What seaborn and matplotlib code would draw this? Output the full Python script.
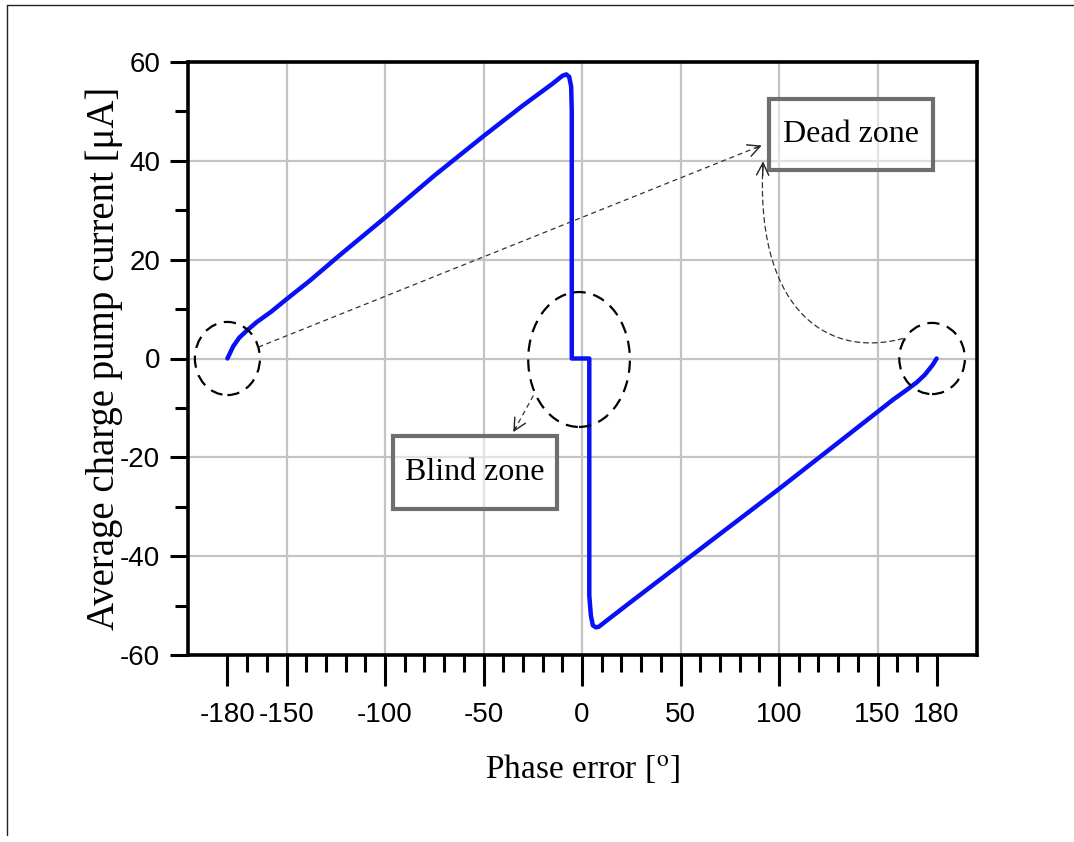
import numpy as np
import pandas as pd
import seaborn as sns
import matplotlib
matplotlib.use("Agg")
import matplotlib.pyplot as plt
from matplotlib.patches import Ellipse, Rectangle, FancyArrowPatch
from matplotlib.path import Path
from matplotlib.lines import Line2D
from matplotlib.ticker import MultipleLocator, FixedLocator

# ---- data ----
phase_deg = [-180, -177, -174, -170, -165, -158, -150, -138, -123, -100, -75, -50,
             -30, -15, -10, -8, -6.5, -5.5, -5.2, -5.2, 3.7, 3.7, 4.5, 5.5, 7, 8.5,
             12, 25, 50, 75, 100, 125, 150, 158, 165, 170, 174, 178, 180]
current_uA = [0, 2.5, 4.2, 5.7, 7.4, 9.4, 12.0, 15.8, 20.9, 28.5, 37.0, 45.0,
              51.2, 55.6, 57.2, 57.5, 57.0, 55.0, 50.0, 0, 0, -48, -52, -54, -54.4, -54.3,
              -53.2, -49.2, -41.6, -34.0, -26.4, -18.6, -10.8, -8.3, -6.3, -4.8, -3.3, -1.3, 0]

x_major_ticks = [-180, -150, -100, -50, 0, 50, 100, 150, 180]
x_tick_labels = ["-180", "-150", "-100", "-50", "0", "50", "100", "150", "180"]
y_major_ticks = [-60, -40, -20, 0, 20, 40, 60]
y_tick_labels = ["-60", "-40", "-20", "0", "20", "40", "60"]

x_label = "Phase error [$^{\\mathrm{o}}$]"
y_label = "Average charge pump current [\u03bcA]"
dead_zone_text = "Dead zone"
blind_zone_text = "Blind zone"

df = pd.DataFrame({"phase": phase_deg, "current": current_uA})

sns.set_theme(style="white")
plt.rcParams["font.family"] = ["Liberation Serif", "DejaVu Serif"]
plt.rcParams["mathtext.fontset"] = "stix"
plt.rcParams["axes.unicode_minus"] = False

fig = plt.figure(figsize=(10.74, 8.42), dpi=100)
ax = fig.add_axes([188 / 1074, 1 - 655 / 842, (977 - 188) / 1074, (655 - 62) / 842])

grid_c = "#c4c4c4"
sns.lineplot(data=df, x="phase", y="current", sort=False, estimator=None,
             color="#0a10f5", lw=3.2, ax=ax, zorder=5)

ax.set_xlim(-200, 200.5)
ax.set_ylim(-60, 60)

# ticks
ax.xaxis.set_major_locator(FixedLocator(x_major_ticks))
ax.set_xticklabels(x_tick_labels)
ax.xaxis.set_minor_locator(FixedLocator([v for v in range(-170, 180, 10) if v % 50 != 0]))
ax.yaxis.set_major_locator(FixedLocator(y_major_ticks))
ax.set_yticklabels(y_tick_labels)
ax.yaxis.set_minor_locator(MultipleLocator(10))

ax.tick_params(axis="both", which="major", labelsize=20, labelcolor="black",
               labelfontfamily="Liberation Sans")
ax.tick_params(axis="x", which="major", direction="out", length=22, width=2.2,
               color="black", pad=12, bottom=True)
ax.tick_params(axis="x", which="minor", direction="out", length=12, width=2.2,
               color="black", bottom=True)
ax.tick_params(axis="y", which="major", direction="out", length=13, width=2.2,
               color="black", pad=7, left=True)
ax.tick_params(axis="y", which="minor", direction="out", length=9.5, width=2.2,
               color="black", left=True)

# grid
ax.grid(True, which="major", color=grid_c, lw=1.6, zorder=0)
xg = ax.get_xgridlines()
xg[0].set_visible(False)
xg[-1].set_visible(False)
ax.set_axisbelow(True)

for s in ax.spines.values():
    s.set_visible(True)
    s.set_color("black")
    s.set_linewidth(2.6)

ax.set_xlabel(x_label, fontsize=24, color="black")
ax.set_ylabel(y_label, fontsize=28, color="black")
ax.xaxis.set_label_coords(0.5, -0.163)
ax.yaxis.set_label_coords(-0.083, 0.5)

# dashed ellipses
ell_kw = dict(fill=False, edgecolor="black", lw=1.6, linestyle=(0, (5.5, 3.5)), zorder=6)
ax.add_patch(Ellipse((-180, 0), 33, 14.8, **ell_kw))
ax.add_patch(Ellipse((-1.5, -0.2), 51.6, 27.3, **ell_kw))
ax.add_patch(Ellipse((177.7, 0), 33.3, 14.4, **ell_kw))

# boxes
box_kw = dict(facecolor=(1, 1, 1, 0.5), edgecolor="#6e6e6e", lw=3.0, zorder=7)
ax.add_patch(Rectangle((95.1, 38.1), 178.3 - 95.1, 52.6 - 38.1, **box_kw))
ax.add_patch(Rectangle((-95.8, -30.4), -12.8 + 95.8, -15.6 + 30.4, **box_kw))
ax.text(136.7, 45.3, dead_zone_text, fontsize=23, ha="center", va="center", zorder=8,
        color="black")
ax.text(-54.3, -23.0, blind_zone_text, fontsize=23, ha="center", va="center", zorder=8,
        color="black")

# dashed connectors
dash_kw = dict(color="#333333", lw=0.9, linestyle=(0, (4, 3)), zorder=6)
ax.plot([-164.3, 91.0], [2.3, 43.1], **dash_kw)
ax.plot([-24.7, -34.6], [-7.5, -14.7], **dash_kw)
curve = Path([(163.0, 4.05), (120.8, -0.40), (87.8, 11.74), (91.9, 39.7)],
             [Path.MOVETO, Path.CURVE4, Path.CURVE4, Path.CURVE4])
ax.add_patch(FancyArrowPatch(path=curve, arrowstyle="-", color="#333333", lw=0.9,
                             linestyle=(0, (4, 3)), zorder=6))

head_kw = dict(arrowstyle="->", color="#222222", lw=1.0, mutation_scale=22, shrinkA=0, shrinkB=0)
ax.annotate("", xy=(91.2, 43.1), xytext=(88.0, 42.6), arrowprops=head_kw, zorder=7)
ax.annotate("", xy=(-34.9, -14.9), xytext=(-33.6, -14.0), arrowprops=head_kw, zorder=7)
ax.annotate("", xy=(91.9, 39.9), xytext=(91.7, 37.0), arrowprops=head_kw, zorder=7)

# thin frame lines of the original page
fig.add_artist(Line2D([7 / 1074, 1.0], [1 - 5 / 842, 1 - 5 / 842], transform=fig.transFigure,
                      color="#222222", lw=1.0))
fig.add_artist(Line2D([7 / 1074, 7 / 1074], [1 - 5 / 842, 1 - 835 / 842], transform=fig.transFigure,
                      color="#222222", lw=1.0))

fig.savefig("out.png", dpi=100, facecolor="white")
